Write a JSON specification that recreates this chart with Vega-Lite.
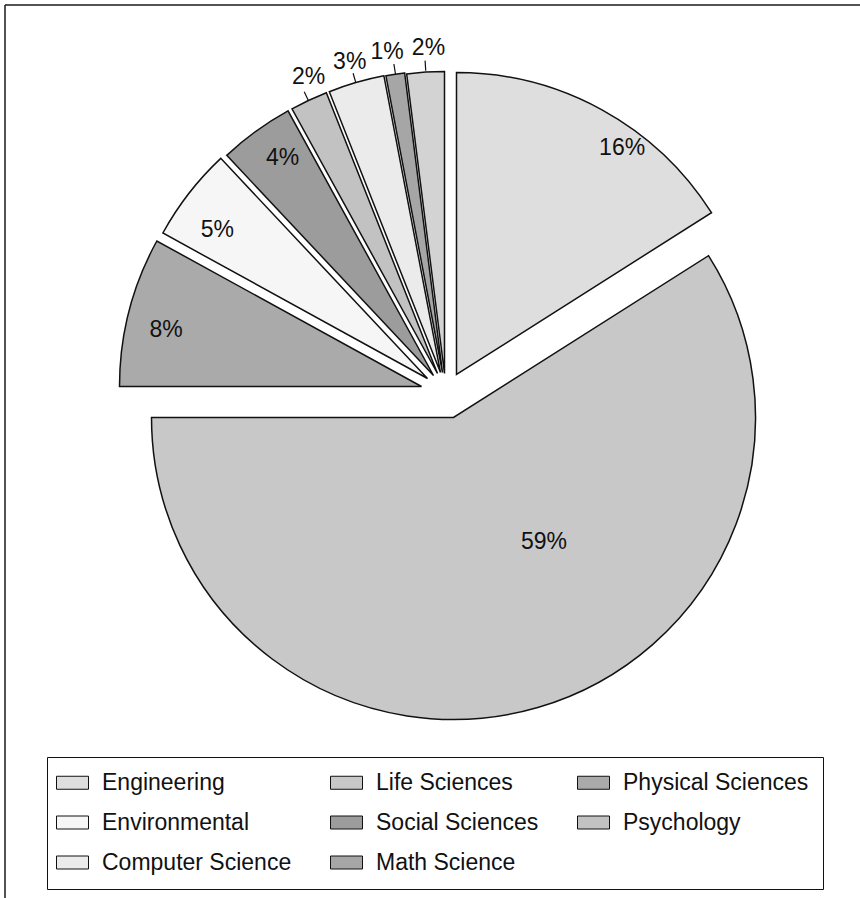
{
  "$schema": "https://vega.github.io/schema/vega-lite/v6.json",
  "width": 855,
  "height": 893,
  "autosize": "none",
  "padding": {"left": 5, "top": 5, "right": 0, "bottom": 0},
  "background": "white",
  "config": {"view": {"stroke": null}, "font": "Liberation Sans"},
  "data": {"values": [
    {"field": "Engineering", "value": 0.16},
    {"field": "Life Sciences", "value": 0.59},
    {"field": "Physical Sciences", "value": 0.08},
    {"field": "Environmental", "value": 0.05},
    {"field": "Social Sciences", "value": 0.04},
    {"field": "Psychology", "value": 0.02},
    {"field": "Computer Science", "value": 0.03},
    {"field": "Math Science", "value": 0.01},
    {"field": "Other", "value": 0.02}
  ]},
  "transform": [{"stack": "value", "groupby": [], "as": ["v0", "v1"]}],
  "layer": [
    {
      "data": {"values": [{}]},
      "mark": {"type": "rule", "stroke": "#1a1a1a", "strokeWidth": 1.5},
      "encoding": {"x": {"value": 0}, "x2": {"value": "width"}, "y": {"value": 0}}
    },
    {
      "data": {"values": [{}]},
      "mark": {"type": "rule", "stroke": "#1a1a1a", "strokeWidth": 1.5},
      "encoding": {"x": {"value": 0}, "y": {"value": 0}, "y2": {"value": "height"}}
    },
    {
      "encoding": {
        "theta": {"field": "v0", "type": "quantitative", "stack": null, "scale": {"domain": [0, 1]}},
        "theta2": {"field": "v1"},
        "color": {
          "field": "field",
          "type": "nominal",
          "scale": {
            "domain": ["Engineering", "Life Sciences", "Physical Sciences", "Environmental", "Social Sciences", "Psychology", "Computer Science", "Math Science", "Other"],
            "range": ["#dedede", "#c8c8c8", "#aaaaaa", "#f6f6f6", "#9c9c9c", "#c2c2c2", "#ebebeb", "#a6a6a6", "#d3d3d3"]
          },
          "legend": {
            "title": null,
            "values": ["Engineering", "Environmental", "Computer Science", "Life Sciences", "Social Sciences", "Math Science", "Physical Sciences", "Psychology"],
            "orient": "none",
            "legendX": 42,
            "legendY": 752,
            "columns": 3,
            "columnPadding": 36,
            "rowPadding": 16,
            "padding": 14,
            "strokeColor": "#111",
            "fillColor": "white",
            "symbolType": "M-1.6,-0.65H1.6V0.65H-1.6Z",
            "symbolSize": 400,
            "symbolStrokeColor": "#111",
            "symbolStrokeWidth": 1,
            "labelOffset": 18,
            "labelFontSize": 23,
            "labelFont": "Liberation Sans",
            "labelColor": "#111",
            "labelLimit": 300
          }
        }
      },
      "layer": [
        {"transform": [{"filter": "datum.field === 'Engineering'"}], "mark": {"type": "arc", "radius": 302, "stroke": "#111", "strokeWidth": 1.5, "xOffset": 24, "yOffset": -77}},
        {"transform": [{"filter": "datum.field === 'Life Sciences'"}], "mark": {"type": "arc", "radius": 302, "stroke": "#111", "strokeWidth": 1.5, "xOffset": 21, "yOffset": -34}},
        {"transform": [{"filter": "datum.field === 'Physical Sciences'"}], "mark": {"type": "arc", "radius": 302, "stroke": "#111", "strokeWidth": 1.5, "xOffset": -11, "yOffset": -65}},
        {"transform": [{"filter": "datum.field === 'Environmental'"}], "mark": {"type": "arc", "radius": 302, "stroke": "#111", "strokeWidth": 1.5, "xOffset": -5, "yOffset": -73}},
        {"transform": [{"filter": "datum.field === 'Social Sciences'"}], "mark": {"type": "arc", "radius": 302, "stroke": "#111", "strokeWidth": 1.5, "xOffset": 1, "yOffset": -76}},
        {"transform": [{"filter": "datum.field === 'Psychology'"}], "mark": {"type": "arc", "radius": 302, "stroke": "#111", "strokeWidth": 1.5, "xOffset": 5, "yOffset": -78}},
        {"transform": [{"filter": "datum.field === 'Computer Science'"}], "mark": {"type": "arc", "radius": 302, "stroke": "#111", "strokeWidth": 1.5, "xOffset": 8, "yOffset": -79}},
        {"transform": [{"filter": "datum.field === 'Math Science'"}], "mark": {"type": "arc", "radius": 302, "stroke": "#111", "strokeWidth": 1.5, "xOffset": 10, "yOffset": -79}},
        {"transform": [{"filter": "datum.field === 'Other'"}], "mark": {"type": "arc", "radius": 302, "stroke": "#111", "strokeWidth": 1.5, "xOffset": 12, "yOffset": -78}}
      ]
    },
    {
      "mark": {"type": "arc", "radius": 333, "radius2": 323, "padAngle": 2.5, "filled": false, "stroke": "#111", "strokeWidth": 1.2, "xOffset": 13.5, "yOffset": -58.5},
      "encoding": {
        "theta": {"field": "value", "type": "quantitative", "stack": true},
        "order": {"field": "v0", "type": "quantitative"},
        "opacity": {"condition": {"test": "datum.value <= 0.03", "value": 1}, "value": 0}
      }
    },
    {
      "mark": {"type": "text", "radius": 287, "thetaOffset": -0.03, "dx": 13.5, "dy": -58.5, "fontSize": 23, "font": "Liberation Sans", "color": "#111"},
      "encoding": {
        "theta": {"field": "value", "type": "quantitative", "stack": true},
        "order": {"field": "v0", "type": "quantitative"},
        "text": {"field": "value", "type": "quantitative", "format": ".0%"},
        "opacity": {"condition": {"test": "datum.field === 'Physical Sciences'", "value": 1}, "value": 0}
      }
    },
    {
      "mark": {"type": "text", "radius": 281, "thetaOffset": -0.04, "dx": 13.5, "dy": -58.5, "fontSize": 23, "font": "Liberation Sans", "color": "#111"},
      "encoding": {
        "theta": {"field": "value", "type": "quantitative", "stack": true},
        "order": {"field": "v0", "type": "quantitative"},
        "text": {"field": "value", "type": "quantitative", "format": ".0%"},
        "opacity": {"condition": {"test": "datum.field === 'Environmental'", "value": 1}, "value": 0}
      }
    },
    {
      "mark": {"type": "text", "radius": 286, "thetaOffset": 0.02, "dx": 13.5, "dy": -58.5, "fontSize": 23, "font": "Liberation Sans", "color": "#111"},
      "encoding": {
        "theta": {"field": "value", "type": "quantitative", "stack": true},
        "order": {"field": "v0", "type": "quantitative"},
        "text": {"field": "value", "type": "quantitative", "format": ".0%"},
        "opacity": {"condition": {"test": "datum.field === 'Social Sciences'", "value": 1}, "value": 0}
      }
    },
    {
      "mark": {"type": "text", "radius": 302, "thetaOffset": 0.12, "dx": 13.5, "dy": -58.5, "fontSize": 23, "font": "Liberation Sans", "color": "#111"},
      "encoding": {
        "theta": {"field": "value", "type": "quantitative", "stack": true},
        "order": {"field": "v0", "type": "quantitative"},
        "text": {"field": "value", "type": "quantitative", "format": ".0%"},
        "opacity": {"condition": {"test": "datum.field === 'Engineering'", "value": 1}, "value": 0}
      }
    },
    {
      "mark": {"type": "text", "radius": 178, "thetaOffset": -0.3, "dx": 13.5, "dy": -58.5, "fontSize": 23, "font": "Liberation Sans", "color": "#111"},
      "encoding": {
        "theta": {"field": "value", "type": "quantitative", "stack": true},
        "order": {"field": "v0", "type": "quantitative"},
        "text": {"field": "value", "type": "quantitative", "format": ".0%"},
        "opacity": {"condition": {"test": "datum.field === 'Life Sciences'", "value": 1}, "value": 0}
      }
    },
    {
      "mark": {"type": "text", "radius": 345, "thetaOffset": 0.03, "dx": 13.5, "dy": -58.5, "fontSize": 23, "font": "Liberation Sans", "color": "#111"},
      "encoding": {
        "theta": {"field": "value", "type": "quantitative", "stack": true},
        "order": {"field": "v0", "type": "quantitative"},
        "text": {"field": "value", "type": "quantitative", "format": ".0%"},
        "opacity": {"condition": {"test": "datum.field === 'Psychology'", "value": 1}, "value": 0}
      }
    },
    {
      "mark": {"type": "text", "radius": 345, "dx": 13.5, "dy": -58.5, "fontSize": 23, "font": "Liberation Sans", "color": "#111"},
      "encoding": {
        "theta": {"field": "value", "type": "quantitative", "stack": true},
        "order": {"field": "v0", "type": "quantitative"},
        "text": {"field": "value", "type": "quantitative", "format": ".0%"},
        "opacity": {"condition": {"test": "datum.field === 'Computer Science'", "value": 1}, "value": 0}
      }
    },
    {
      "mark": {"type": "text", "radius": 346, "thetaOffset": -0.014, "dx": 13.5, "dy": -58.5, "fontSize": 23, "font": "Liberation Sans", "color": "#111"},
      "encoding": {
        "theta": {"field": "value", "type": "quantitative", "stack": true},
        "order": {"field": "v0", "type": "quantitative"},
        "text": {"field": "value", "type": "quantitative", "format": ".0%"},
        "opacity": {"condition": {"test": "datum.field === 'Math Science'", "value": 1}, "value": 0}
      }
    },
    {
      "mark": {"type": "text", "radius": 345, "thetaOffset": 0.012, "dx": 13.5, "dy": -58.5, "fontSize": 23, "font": "Liberation Sans", "color": "#111"},
      "encoding": {
        "theta": {"field": "value", "type": "quantitative", "stack": true},
        "order": {"field": "v0", "type": "quantitative"},
        "text": {"field": "value", "type": "quantitative", "format": ".0%"},
        "opacity": {"condition": {"test": "datum.field === 'Other'", "value": 1}, "value": 0}
      }
    }
  ]
}
